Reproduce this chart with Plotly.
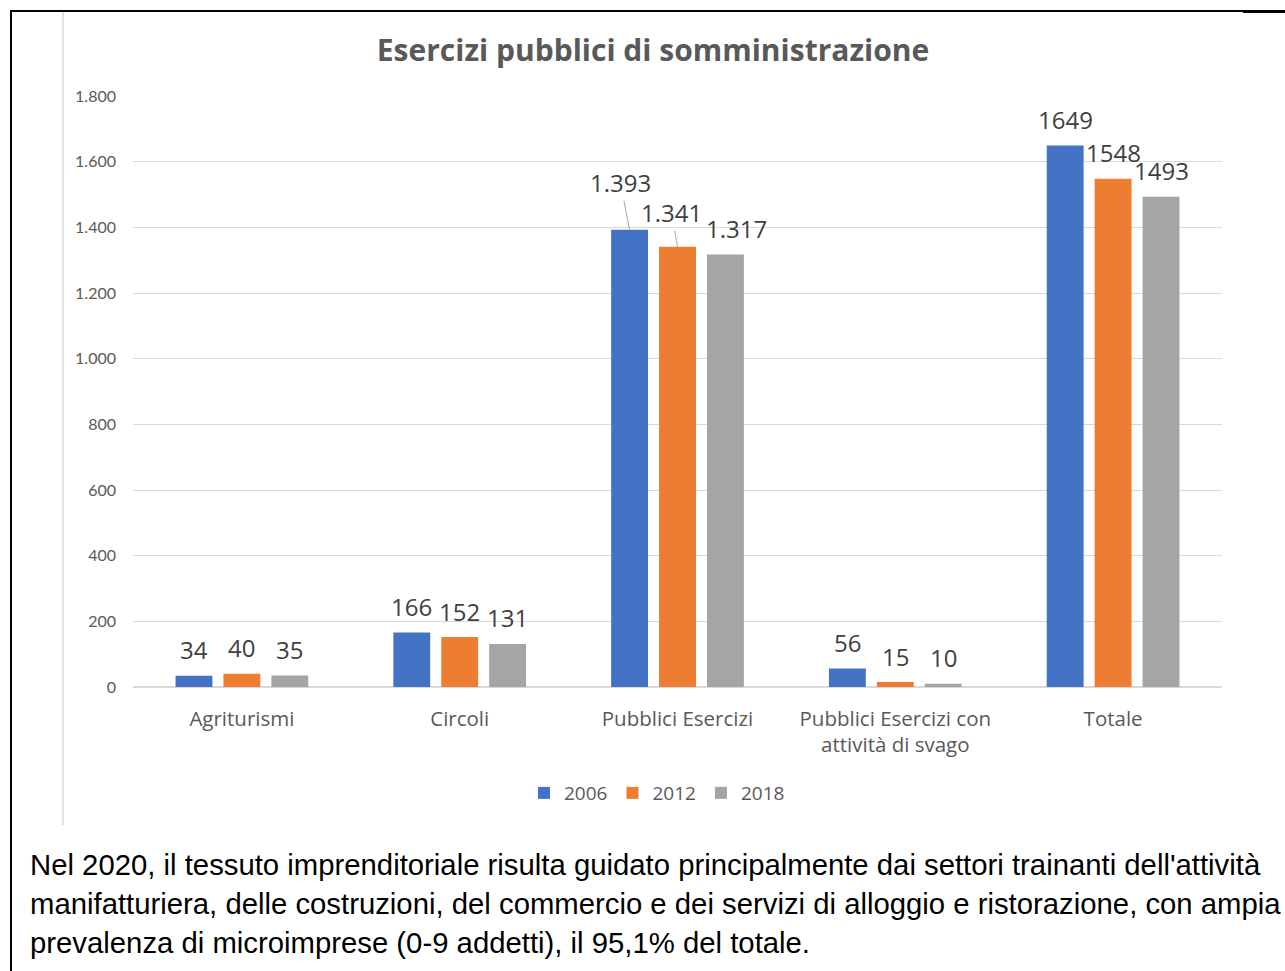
import plotly.graph_objects as go

# ---- data ----
categories = ["Agriturismi", "Circoli", "Pubblici Esercizi",
              "Pubblici Esercizi con<br>attività di svago", "Totale"]
years = ["2006", "2012", "2018"]
values_2006 = [34, 166, 1393, 56, 1649]
values_2012 = [40, 152, 1341, 15, 1548]
values_2018 = [35, 131, 1317, 10, 1493]
labels_2006 = ["34", "166", "1.393", "56", "1649"]
labels_2012 = ["40", "152", "1.341", "15", "1548"]
labels_2018 = ["35", "131", "1.317", "10", "1493"]
y_tick_vals = [0, 200, 400, 600, 800, 1000, 1200, 1400, 1600, 1800]
y_tick_text = ["0", "200", "400", "600", "800", "1.000", "1.200", "1.400", "1.600", "1.800"]

title_text = "Esercizi pubblici di somministrazione"
paragraph_lines = [
    "Nel 2020, il tessuto imprenditoriale risulta guidato principalmente dai settori trainanti dell'attività",
    "manifatturiera, delle costruzioni, del commercio e dei servizi di alloggio e ristorazione, con ampia",
    "prevalenza di microimprese (0-9 addetti), il 95,1% del totale.",
]

# ---- styles ----
colors = ["#4472C4", "#ED7D31", "#A5A5A5"]
W, H = 1285, 971
TXT = "#595959"
LBL = "#404040"


def px_x(p):
    return p / W


def px_y(p):
    return 1 - p / H


series_vals = [values_2006, values_2012, values_2018]
series_lbls = [labels_2006, labels_2012, labels_2018]

fig = go.Figure()
for yr, vals, col in zip(years, series_vals, colors):
    fig.add_trace(go.Bar(
        name=yr, x=categories, y=vals,
        marker=dict(color=col, line=dict(width=0)),
        hoverinfo="x+y+name",
    ))

# data labels as annotations
group_shift = [-48, 0, 48]
annotations = []
for s, (vals, lbls) in enumerate(zip(series_vals, series_lbls)):
    for i, (v, t) in enumerate(zip(vals, lbls)):
        base = dict(xref="x", yref="y", x=categories[i], y=v, text=t,
                    xshift=group_shift[s],
                    font=dict(family="Open Sans", size=24, color=LBL))
        if i == 2 and s == 0:
            base.update(showarrow=True, arrowhead=0, arrowwidth=1, arrowcolor="#A6A6A6",
                        ax=-9, ay=-47, axref="pixel", ayref="pixel", standoff=0)
        elif i == 2 and s == 1:
            base.update(showarrow=True, arrowhead=0, arrowwidth=1, arrowcolor="#A6A6A6",
                        ax=-6, ay=-34, axref="pixel", ayref="pixel", standoff=0)
        elif i == 2 and s == 2:
            base.update(showarrow=False, yanchor="middle", yshift=26,
                        xshift=group_shift[s] + 11)
        else:
            base.update(showarrow=False, yanchor="middle", yshift=26)
        annotations.append(base)

# paragraph below the chart
for line, yc in zip(paragraph_lines, [864, 903, 942]):
    annotations.append(dict(
        xref="paper", yref="paper", x=px_x(28), y=px_y(yc),
        xanchor="left", yanchor="middle", showarrow=False, text=line,
        font=dict(family="Liberation Sans", size=29.3, color="#000000"),
    ))

shapes = [
    dict(type="line", xref="paper", yref="paper", x0=px_x(10), x1=1, y0=px_y(11), y1=px_y(11),
         line=dict(color="#000000", width=2)),
    dict(type="line", xref="paper", yref="paper", x0=px_x(1243), x1=1, y0=px_y(11.5), y1=px_y(11.5),
         line=dict(color="#000000", width=3)),
    dict(type="line", xref="paper", yref="paper", x0=px_x(11), x1=px_x(11), y0=px_y(10), y1=0,
         line=dict(color="#000000", width=2)),
    dict(type="line", xref="paper", yref="paper", x0=px_x(63), x1=px_x(63), y0=px_y(12), y1=px_y(825),
         line=dict(color="#D9D9D9", width=1.5)),
]

fig.update_layout(
    width=W, height=H, autosize=False,
    margin=dict(l=0, r=0, t=0, b=0, pad=0, autoexpand=False),
    paper_bgcolor="white", plot_bgcolor="white",
    barmode="group", bargap=0.34, bargroupgap=0.23,
    title=dict(text="<b>" + title_text + "</b>", x=px_x(653), xanchor="center",
               y=px_y(50), yanchor="middle", xref="paper", yref="paper",
               automargin=False,
               font=dict(family="Open Sans", size=30, color=TXT)),
    xaxis=dict(domain=[px_x(133), px_x(1222)], showline=False, showgrid=False,
               ticks="", tickfont=dict(family="Open Sans", size=20.5, color=TXT),
               ticklabelstandoff=17, fixedrange=True, automargin=False),
    yaxis=dict(domain=[px_y(687), px_y(96)], range=[0, 1800],
               tickvals=y_tick_vals, ticktext=y_tick_text,
               showgrid=True, gridcolor="#D9D9D9", gridwidth=1,
               zeroline=True, zerolinecolor="#D9D9D9", zerolinewidth=1.5,
               showline=False, ticks="", ticklabelstandoff=16, automargin=False,
               tickfont=dict(family="Lato", size=16, color=TXT), fixedrange=True),
    legend=dict(orientation="h", x=px_x(657), xanchor="center", y=px_y(793), yanchor="middle",
                font=dict(family="Open Sans", size=19, color=TXT), itemwidth=30,
                traceorder="normal"),
    annotations=annotations,
    shapes=shapes,
)

post = (
    "document.documentElement.style.margin='0px';"
    "document.documentElement.style.overflow='hidden';"
    "document.body.style.margin='0px';document.body.style.padding='0px';"
    "document.body.style.overflow='hidden';"
    "var d=document.getElementById('{plot_id}');"
    "d.style.position='absolute';d.style.top='0px';d.style.left='0px';"
)
fig.write_html("out.html", post_script=post, config={"displayModeBar": False})
